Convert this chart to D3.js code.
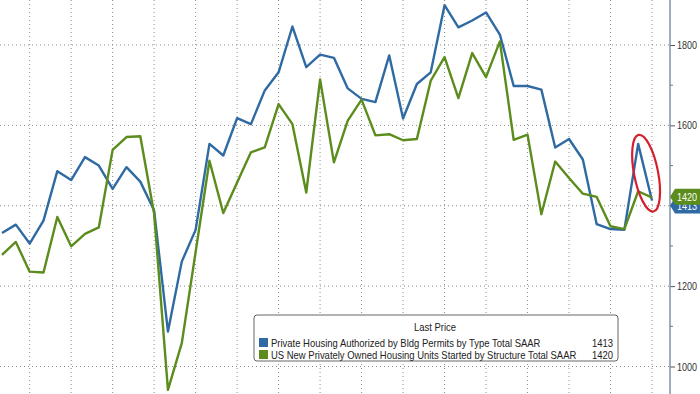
<!DOCTYPE html>
<html>
<head>
<meta charset="utf-8">
<script src="https://cdn.jsdelivr.net/npm/d3@7"></script>
<style>
  body { margin: 0; background: #fff; }
  svg { display: block; font-family: "Liberation Sans", Arial, sans-serif; }
</style>
</head>
<body>
<svg width="700" height="394"></svg>
<script>
// monthly readings, thousands of units (SAAR)
var months = d3.range(48);

var permits = [1332, 1353, 1306, 1363, 1486, 1464, 1521, 1500, 1442, 1496, 1460, 1388,
               1087, 1261, 1340, 1554, 1525, 1618, 1603, 1687, 1732, 1846, 1745, 1776,
               1768, 1692, 1666, 1658, 1774, 1617, 1703, 1732, 1899, 1844, 1861, 1881,
               1826, 1698, 1698, 1689, 1545, 1566, 1515, 1354, 1342, 1340, 1554, 1413];

var starts = [1278, 1310, 1236, 1234, 1372, 1299, 1330, 1346, 1539, 1571, 1573, 1380,
              942, 1058, 1285, 1512, 1382, 1458, 1533, 1545, 1653, 1603, 1433, 1714,
              1508, 1612, 1664, 1575, 1578, 1563, 1566, 1711, 1770, 1668, 1780, 1720,
              1809, 1564, 1577, 1379, 1510, 1469, 1430, 1422, 1349, 1342, 1436, 1420];

var seriesNames = ["Private Housing Authorized by Bldg Permits by Type Total SAAR",
                   "US New Privately Owned Housing Units Started by Structure Total SAAR"];
var lastValues = [1413, 1420];
var colors = ["#2f6aa3", "#5b8c1c"];

var yTicks = [1000, 1200, 1400, 1600, 1800];
var yMinor = [1100, 1300, 1500, 1700];

var svg = d3.select("svg");

var x = d3.scaleLinear().domain([0, 47]).range([2, 652]);
var y = d3.scaleLinear().domain([1000, 1800]).range([366.5, 45]);

var axisX = 670;

// squeeze text horizontally, the terminal font is a narrow one
function condense(sel, ratio) {
    sel.each(function() {
        var w = this.getComputedTextLength();
        d3.select(this)
            .attr("textLength", w * ratio)
            .attr("lengthAdjust", "spacingAndGlyphs");
    });
}

// grid
var grid = svg.append("g").attr("class", "grid");
grid.selectAll(".hg")
    .data(yTicks)
    .enter()
    .append("line")
    .attr("x1", 0)
    .attr("x2", axisX)
    .attr("y1", function(d) { return y(d); })
    .attr("y2", function(d) { return y(d); })
    .attr("stroke", "#8c8c8c")
    .attr("stroke-width", 1)
    .attr("stroke-dasharray", "1,3");

grid.selectAll(".vg")
    .data(months.filter(function(m) { return m % 3 == 2; }))
    .enter()
    .append("line")
    .attr("x1", function(d) { return x(d); })
    .attr("x2", function(d) { return x(d); })
    .attr("y1", 0)
    .attr("y2", 394)
    .attr("stroke", "#8c8c8c")
    .attr("stroke-width", 1)
    .attr("stroke-dasharray", "1,3");

// lines
var line = d3.line()
    .x(function(d, i) { return x(i); })
    .y(function(d) { return y(d); });

[permits, starts].forEach(function(s, k) {
    svg.append("path")
        .datum(s)
        .attr("d", line)
        .attr("fill", "none")
        .attr("stroke", colors[k])
        .attr("stroke-width", 2.4)
        .attr("stroke-linejoin", "round");
});

// highlight ellipse round the last two readings
var ex = (x(46) + x(47)) / 2 + 1;
var ey = (y(permits[46]) + y(permits[47])) / 2 + 1;
svg.append("ellipse")
    .attr("cx", ex)
    .attr("cy", ey)
    .attr("rx", 12)
    .attr("ry", 39)
    .attr("transform", "rotate(-11," + ex + "," + ey + ")")
    .attr("fill", "none")
    .attr("stroke", "#d3202e")
    .attr("stroke-width", 2.2);

// right axis
var axis = svg.append("g")
    .attr("transform", "translate(" + axisX + ",0)")
    .call(d3.axisRight(y).tickValues(yTicks).tickSize(5).tickPadding(2).tickFormat(d3.format("d")));

axis.select(".domain").remove();
axis.append("line")
    .attr("y1", 0).attr("y2", 394)
    .attr("stroke", "#7f93a8")
    .attr("stroke-width", 1.5);
axis.selectAll(".tick line").attr("stroke", "#555");
axis.selectAll(".tick text")
    .attr("fill", "#333")
    .style("font-size", "11px")
    .call(condense, 0.82);

axis.selectAll(".minor")
    .data(yMinor)
    .enter()
    .append("line")
    .attr("x1", 0).attr("x2", 3)
    .attr("y1", function(d) { return y(d); })
    .attr("y2", function(d) { return y(d); })
    .attr("stroke", "#777");

// last value tags
var tagOffsets = [5, -1];
[0, 1].forEach(function(k) {
    var ty = y(lastValues[k]) + tagOffsets[k];
    var tg = svg.append("g").attr("transform", "translate(" + axisX + "," + ty + ")");
    tg.append("path")
        .attr("d", "M0,0 L5,-8 L30,-8 L30,8 L5,8 Z")
        .attr("fill", colors[k]);
    tg.append("text")
        .attr("x", 7)
        .attr("y", 4)
        .attr("fill", "#fff")
        .style("font-size", "11px")
        .text(lastValues[k])
        .call(condense, 0.82);
});

// legend
var lg = svg.append("g").attr("transform", "translate(254,315)");
lg.append("rect")
    .attr("width", 364)
    .attr("height", 46)
    .attr("rx", 3)
    .attr("fill", "#fff")
    .attr("stroke", "#666")
    .attr("stroke-width", 1);
lg.append("text")
    .attr("x", 181)
    .attr("y", 16)
    .attr("text-anchor", "middle")
    .attr("fill", "#222")
    .style("font-size", "11px")
    .text("Last Price")
    .call(condense, 0.86);
seriesNames.forEach(function(name, k) {
    var ly = 23 + k * 12;
    lg.append("rect")
        .attr("x", 5)
        .attr("y", ly)
        .attr("width", 9)
        .attr("height", 9)
        .attr("fill", colors[k]);
    lg.append("text")
        .attr("x", 17)
        .attr("y", ly + 9)
        .attr("fill", "#222")
        .style("font-size", "11px")
        .text(name)
        .call(condense, 0.86);
    lg.append("text")
        .attr("x", 359)
        .attr("y", ly + 9)
        .attr("text-anchor", "end")
        .attr("fill", "#222")
        .style("font-size", "11px")
        .text(lastValues[k])
        .call(condense, 0.86);
});
</script>
</body>
</html>
